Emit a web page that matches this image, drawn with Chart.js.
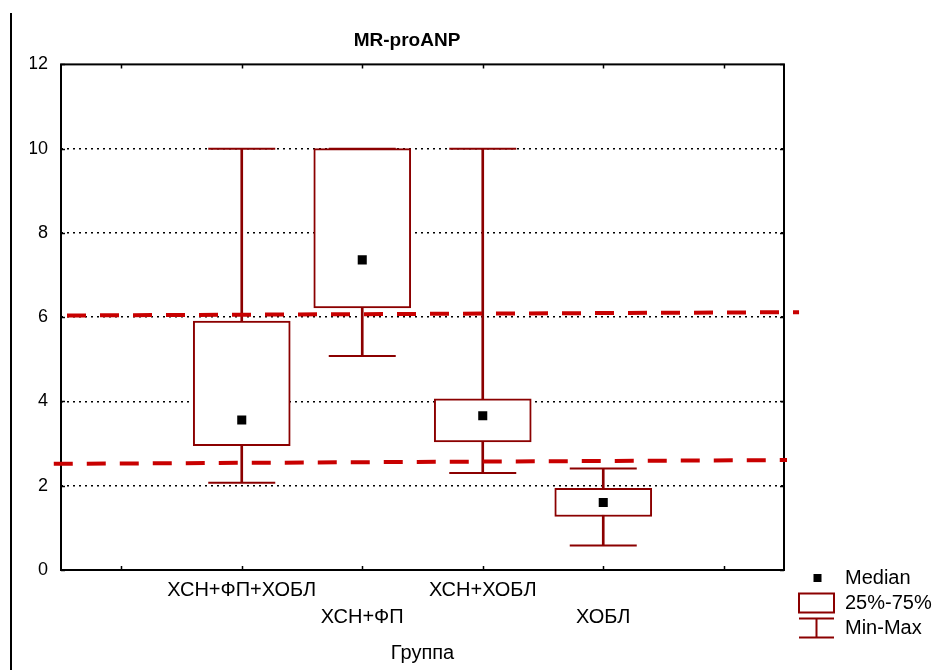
<!DOCTYPE html>
<html>
<head>
<meta charset="utf-8">
<title>MR-proANP</title>
<script src="https://cdn.jsdelivr.net/npm/chart.js@4.4.1/dist/chart.umd.min.js"></script>
<style>
  html, body { margin: 0; padding: 0; background: #fff; }
  canvas { display: block; }
</style>
</head>
<body>
<canvas id="boxChart" width="942" height="670"></canvas>
<script>
// groups and their summary stats
const groups = ['ХСН+ФП+ХОБЛ', 'ХСН+ФП', 'ХСН+ХОБЛ', 'ХОБЛ'];
const minVals = [2.07, 5.08, 2.30, 0.58];
const q1Vals = [2.95, 6.22, 3.04, 1.27];
const medianVals = [3.56, 7.36, 3.66, 1.60];
const q3Vals = [5.91, 10.0, 4.06, 1.94];
const maxVals = [10.0, 10.0, 10.0, 2.41];
const yTicks = [0, 2, 4, 6, 8, 10, 12];

// reference levels (dashed), start/end points
const upperLevelX = [-0.45, 5.625];
const upperLevelY = [6.04, 6.12];
const lowerLevelX = [-0.56, 5.525];
const lowerLevelY = [2.52, 2.61];

const FONT = "'Liberation Sans', Arial, sans-serif";
const DARK = '#8b0000';
const DASH_RED = '#c80000';

const positions = groups.map((g, i) => i + 1);

function xLabel(value) {
    const i = value - 1;
    if (i < 0 || i >= groups.length) return '';
    // every second label goes on the lower row
    return i % 2 === 0 ? groups[i] : ['', groups[i]];
}

const framePlugin = {
    id: 'frame',
    beforeDatasetsDraw(chart) {
        const { ctx, chartArea: a, scales } = chart;
        ctx.save();
        ctx.strokeStyle = '#000';
        ctx.lineWidth = 2;
        ctx.strokeRect(a.left, a.top, a.right - a.left, a.bottom - a.top);
        // small tick marks pointing inwards on all four sides
        ctx.lineWidth = 1.5;
        ctx.beginPath();
        scales.x.ticks.forEach(t => {
            const px = Math.round(scales.x.getPixelForValue(t.value)) + 0.5;
            ctx.moveTo(px, a.bottom); ctx.lineTo(px, a.bottom - 4);
            ctx.moveTo(px, a.top); ctx.lineTo(px, a.top + 4);
        });
        scales.y.ticks.forEach(t => {
            const py = Math.round(scales.y.getPixelForValue(t.value)) + 0.5;
            ctx.moveTo(a.left, py); ctx.lineTo(a.left + 4, py);
            ctx.moveTo(a.right, py); ctx.lineTo(a.right - 4, py);
        });
        ctx.stroke();
        ctx.restore();
    },
    afterDraw(chart) {
        const { ctx } = chart;
        ctx.save();
        // vertical rule at the far left
        ctx.fillStyle = '#000';
        ctx.fillRect(10, 13, 2, 657);

        // legend
        ctx.font = '20px ' + FONT;
        ctx.textBaseline = 'middle';
        ctx.textAlign = 'left';
        ctx.fillStyle = '#000';
        ctx.fillRect(813.5, 574, 8, 8);
        ctx.fillText('Median', 845, 578);

        ctx.strokeStyle = DARK;
        ctx.lineWidth = 2;
        ctx.strokeRect(799, 593.5, 35, 19);
        ctx.fillText('25%-75%', 845, 603);

        ctx.beginPath();
        ctx.moveTo(799, 618.5); ctx.lineTo(834, 618.5);
        ctx.moveTo(799, 637.5); ctx.lineTo(834, 637.5);
        ctx.moveTo(816.5, 618.5); ctx.lineTo(816.5, 637.5);
        ctx.stroke();
        ctx.fillText('Min-Max', 845, 628);
        ctx.restore();
    }
};

const ctx = document.getElementById('boxChart').getContext('2d');

new Chart(ctx, {
    type: 'bar',
    data: {
        datasets: [
            {
                type: 'line',
                label: 'upper',
                data: upperLevelX.map((x, i) => ({ x, y: upperLevelY[i] })),
                borderColor: DASH_RED,
                borderWidth: 4,
                borderDash: [19, 14],
                pointRadius: 0,
                fill: false,
                clip: false,
                order: -2
            },
            {
                type: 'line',
                label: 'lower',
                data: lowerLevelX.map((x, i) => ({ x, y: lowerLevelY[i] })),
                borderColor: DASH_RED,
                borderWidth: 4,
                borderDash: [19, 14],
                pointRadius: 0,
                fill: false,
                clip: false,
                order: -1
            },
            {
                type: 'scatter',
                label: 'Median',
                data: positions.map((x, i) => ({ x, y: medianVals[i] })),
                pointStyle: 'rect',
                pointRadius: 6.4,
                pointBackgroundColor: '#000',
                pointBorderWidth: 0,
                order: 0
            },
            {
                type: 'scatter',
                label: 'caps',
                data: positions.map((x, i) => ({ x, y: minVals[i] }))
                    .concat(positions.map((x, i) => ({ x, y: maxVals[i] }))),
                pointStyle: 'line',
                pointRadius: 33.5,
                pointBorderColor: DARK,
                pointBorderWidth: 2,
                order: 1
            },
            {
                label: '25%-75%',
                data: positions.map((x, i) => ({ x, y: [q1Vals[i], q3Vals[i]] })),
                backgroundColor: '#fff',
                borderColor: DARK,
                borderWidth: 2,
                borderSkipped: false,
                barThickness: 97,
                grouped: false,
                order: 2
            },
            {
                label: 'Min-Max',
                data: positions.map((x, i) => ({ x, y: [minVals[i], maxVals[i]] })),
                backgroundColor: DARK,
                borderWidth: 0,
                barThickness: 2,
                grouped: false,
                order: 3
            }
        ]
    },
    options: {
        responsive: false,
        animation: false,
        events: [],
        layout: { padding: { left: 30, right: 158, top: 0, bottom: 0 } },
        plugins: {
            legend: { display: false },
            tooltip: { enabled: false },
            title: {
                display: true,
                text: 'MR-proANP',
                color: '#000',
                font: { family: FONT, size: 19, weight: 'bold' },
                padding: { top: 29.6, bottom: 12 }
            }
        },
        scales: {
            x: {
                type: 'linear',
                min: -0.5,
                max: 5.5,
                offset: false,
                afterBuildTicks: s => { s.ticks = [0, 1, 2, 3, 4, 5].map(v => ({ value: v })); },
                afterFit: s => { s.height = 100; },
                grid: { display: false, drawTicks: false, offset: false },
                border: { display: false },
                ticks: {
                    autoSkip: false,
                    maxRotation: 0,
                    padding: 6.5,
                    color: '#000',
                    font: { family: FONT, size: 20, lineHeight: 1.35 },
                    callback: v => xLabel(v)
                },
                title: {
                    display: true,
                    text: 'Группа',
                    color: '#000',
                    font: { family: FONT, size: 20 },
                    padding: { top: 0, bottom: 5 }
                }
            },
            y: {
                min: 0,
                max: 12,
                afterBuildTicks: s => { s.ticks = yTicks.map(v => ({ value: v })); },
                afterFit: s => { s.width = 31; },
                grid: {
                    // no dotted line on the frame edges
                    color: c => (c.tick && (c.tick.value === 0 || c.tick.value === 12)) ? 'rgba(0,0,0,0)' : '#000',
                    lineWidth: 1.5,
                    drawTicks: false
                },
                border: { display: false, dash: [2, 4] },
                ticks: {
                    padding: 13,
                    color: '#000',
                    font: { family: FONT, size: 18 }
                }
            }
        }
    },
    plugins: [framePlugin]
});
</script>
</body>
</html>
